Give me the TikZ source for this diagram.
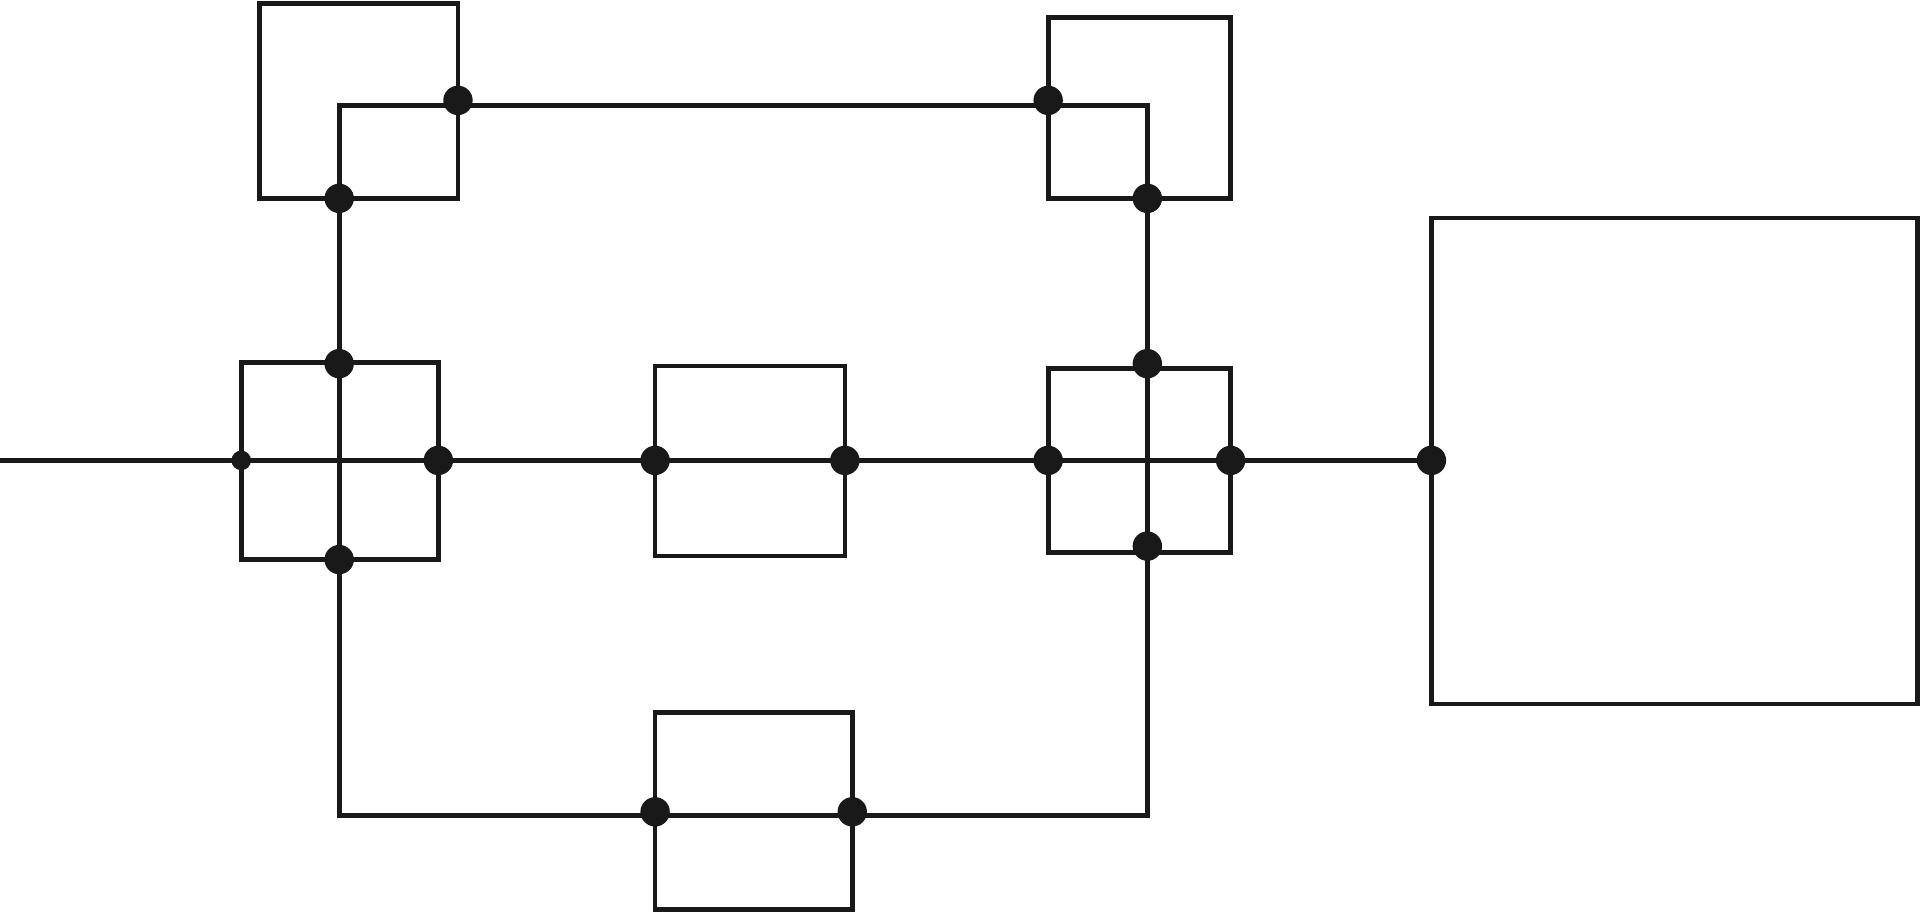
\documentclass[tikz,border=0pt]{standalone}
\usetikzlibrary{calc}
\tikzset{wire/.style={line width=1.1pt, draw=black!90}, dot/.style={fill=black!90}}
\begin{document}
\begin{tikzpicture}[x=0.01cm,y=-0.01cm]
    \useasboundingbox (0,0) rectangle (1568,746);

    % Boxes
    \draw[wire] (212,3) rectangle (374,162);
    \draw[wire] (856,14) rectangle (1005,162);
    \draw[wire] (197,296) rectangle (358,457);
    \draw[wire] (535,299) rectangle (690,454);
    \draw[wire] (856,301) rectangle (1005,451);
    \draw[wire] (535,582) rectangle (696,743);
    \draw[wire] (1169,178) rectangle (1566,575);

    % Loop and main line
    \draw[wire] (277,86) rectangle (937,666);
    \draw[wire] (0,376) -- (1169,376);

    % Junctions
    \foreach \p in {(374,82),(856,82),(277,162),(937,162),(277,297),(937,297),
                    (358,376),(535,376),(690,376),(856,376),(1005,376),(1169,376),
                    (277,457),(937,446),(535,663),(696,663)}
        \fill[dot] \p circle (12);
    \fill[dot] (197,376) circle (8);
\end{tikzpicture}
\end{document}
